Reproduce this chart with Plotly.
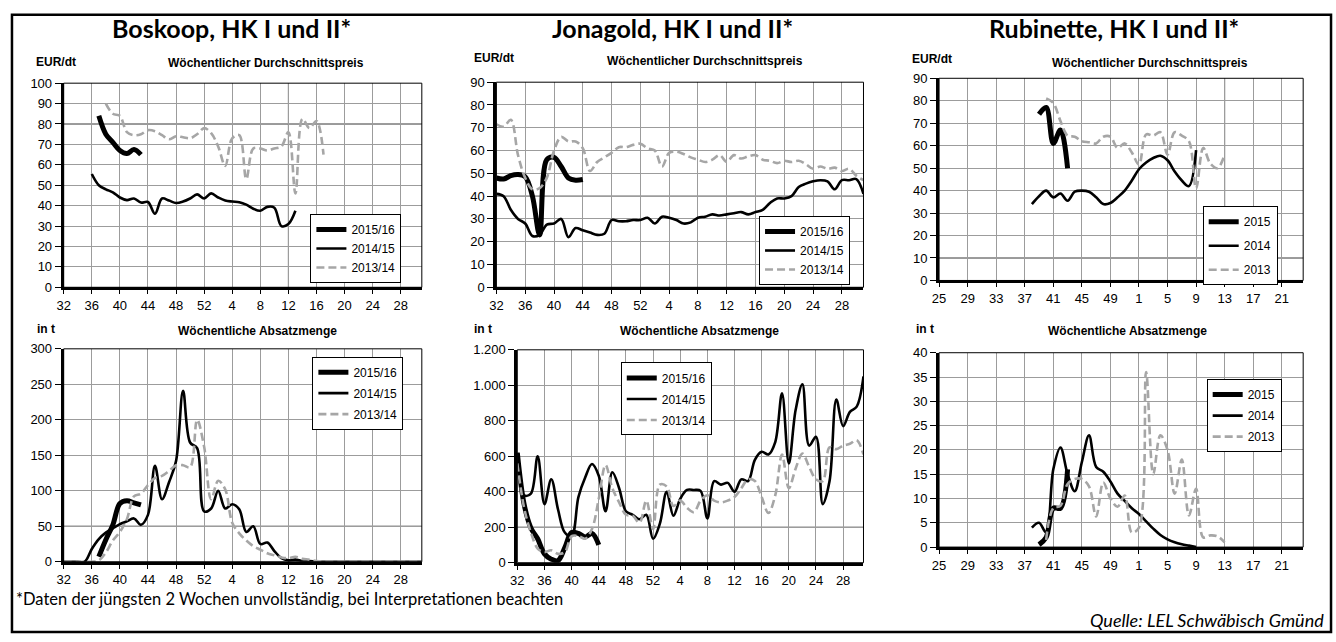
import plotly.graph_objects as go

W, H = 1336, 642

# ---------------- DATA ----------------
# x index: Boskoop/Jonagold weeks 32..52 then 1..31 ; Rubinette weeks 25..52 then 1..24
BJ_TICKTEXT = ["32", "36", "40", "44", "48", "52", "4", "8", "12", "16", "20", "24", "28"]
RU_TICKTEXT = ["25", "29", "33", "37", "41", "45", "49", "1", "5", "9", "13", "17", "21"]
TICK_POS = [0, 4, 8, 12, 16, 20, 24, 28, 32, 36, 40, 44, 48]

SERIES_BJ = ["2015/16", "2014/15", "2013/14"]
SERIES_RU = ["2015", "2014", "2013"]

# Boskoop price (EUR/dt), start index + values
BOS_P1516_START = 5
BOS_P1516 = [84, 75, 71, 67, 65.5, 67.5, 65]
BOS_P1415_START = 4
BOS_P1415 = [55.5, 50, 48, 46.5, 44, 42.7, 43.5, 41.5, 41.8, 36, 43.5, 42.5, 41.3, 42, 43.5,
             45.5, 43.5, 46, 44, 42.5, 42, 41.7, 40.5, 38.5, 37.5, 39.4, 39, 30, 31, 37.5]
BOS_P1314_START = 6
BOS_P1314 = [90, 85, 84, 76, 74.5, 75, 77, 76.5, 74.5, 72.5, 74, 73.5, 73, 75, 78, 75.5, 69,
             59.5, 73, 74.5, 53, 68, 68, 67, 68, 69, 76, 46, 82.5, 78, 81.5, 65]

# Boskoop quantity (t)
BOS_Q1516_START = 5
BOS_Q1516 = [7, 31, 52, 82, 86, 83, 80]
BOS_Q1415_START = 0
BOS_Q1415 = [0, 0, 0, 0, 18, 32, 41, 47, 53, 57, 61, 52, 66, 135, 88, 112, 142, 241, 168, 160,
             71, 75, 100, 75, 81, 74, 42, 50, 25, 27, 15, 5, 2, 3, 1, 1, 0, 0, 0, 0, 0, 0, 0, 0,
             0, 0, 0, 0, 0, 0, 0, 0]
BOS_Q1314_START = 0
BOS_Q1314 = [0, 0, 0, 0, 0, 2, 13, 30, 42, 60, 92, 96, 108, 118, 121, 128, 136, 136, 133, 200,
             162, 88, 114, 102, 55, 40, 30, 22, 17, 12, 9, 6, 5, 7, 4, 3, 1, 0, 0, 0, 0, 0, 0,
             0, 0, 0, 0, 0, 0, 0, 0, 0]

# Jonagold price (EUR/dt)
JON_P1516_START = 0
JON_P1516 = [48, 47.5, 49, 49.5, 48.5, 40, 23, 56, 57, 53, 48, 47, 47.3]
JON_P1415_START = 0
JON_P1415 = [41, 40, 34, 30, 28, 22.5, 23, 27.5, 28, 30, 22, 26, 25, 24, 23, 23.5, 29.5, 29, 29,
             29.5, 29.5, 30.5, 28, 31, 30.5, 29.5, 28, 28.5, 30.5, 31, 32, 31.5, 32, 32.5, 33,
             32, 33, 34, 37, 39, 39, 40, 44, 45.5, 46.5, 47, 46.5, 43, 47, 47, 47.5, 41]
JON_P1314_START = 0
JON_P1314 = [71.5, 70.5, 73.5, 58, 48, 43, 43.5, 48, 60, 66, 64, 64, 61, 51, 55, 57, 59, 61.5,
             61.5, 62.5, 63, 61, 60, 53, 59, 59.5, 58.5, 57, 56, 55, 56, 58, 55, 58, 56.5, 57.5,
             58, 56, 55.5, 54.5, 55.5, 55, 55.5, 54, 52, 53, 52, 52.5, 51, 52, 49, 47]

# Jonagold quantity (t)
JON_Q1516_START = 0
JON_Q1516 = [620, 330, 196, 135, 50, 20, 12, 85, 170, 165, 145, 165, 100]
JON_Q1415_START = 0
JON_Q1415 = [620, 380, 390, 600, 330, 470, 300, 170, 150, 370, 480, 556, 490, 290, 510, 420,
             290, 270, 245, 270, 135, 220, 400, 265, 360, 410, 410, 405, 250, 460, 440, 450,
             400, 470, 460, 580, 625, 610, 680, 955, 560, 860, 1005, 660, 710, 330, 460, 920,
             770, 850, 880, 1050]
JON_Q1314_START = 0
JON_Q1314 = [560, 310, 170, 80, 60, 70, 50, 60, 150, 150, 135, 190, 360, 550, 420, 340, 270,
             265, 225, 350, 190, 440, 430, 320, 350, 310, 285, 350, 380, 350, 340, 350, 370,
             420, 470, 460, 370, 280, 380, 610, 420, 530, 615, 540, 470, 460, 650, 640, 660,
             670, 690, 610]

# Rubinette price (EUR/dt)
RUB_P2015_START = 14
RUB_P2015 = [74, 77, 61, 67, 50]
RUB_P2014_START = 13
RUB_P2014 = [34, 37.5, 40, 37, 38.7, 35.5, 39.5, 40, 39.5, 37, 34, 34.5, 37, 40, 44.5, 49.5,
             52.5, 54.5, 55.5, 53.5, 48.5, 44.5, 42, 58]
RUB_P2013_START = 15
RUB_P2013 = [81, 79, 71, 64.5, 64, 62, 61.5, 61, 64, 64, 59, 61, 57, 51.5, 65, 64.5, 66, 56, 66,
             64.5, 62, 41, 59, 52, 50, 56]

# Rubinette quantity (t)
RUB_Q2015_START = 14
RUB_Q2015 = [0.5, 2, 8, 8, 16]
RUB_Q2014_START = 13
RUB_Q2014 = [4, 5, 3, 16, 20.5, 15, 11.5, 17.5, 23, 16.5, 15.5, 13.5, 11, 9.5, 8, 6.8, 5.3, 3.8,
             2.5, 1.6, 1, 0.6, 0.3, 0]
RUB_Q2013_START = 15
RUB_Q2013 = [1.5, 8, 8.5, 13, 14, 14, 12.5, 6.3, 13.3, 10, 8.3, 10.6, 3, 4, 36, 15, 23, 20, 11,
             18, 6.5, 12, 2, 2.4, 2.2, 1]

BJ_Y_TICKS_P100 = [0, 10, 20, 30, 40, 50, 60, 70, 80, 90, 100]
BJ_Y_TICKS_P90 = [0, 10, 20, 30, 40, 50, 60, 70, 80, 90]
BOS_Q_TICKS = [0, 50, 100, 150, 200, 250, 300]
JON_Q_TICKS = [0, 200, 400, 600, 800, 1000, 1200]
JON_Q_TICKTEXT = ["0", "200", "400", "600", "800", "1.000", "1.200"]
RUB_Q_TICKS = [0, 5, 10, 15, 20, 25, 30, 35, 40]

# ---------------- HELPERS ----------------
def pxx(x):
    return x / W


def pxy(y):
    return 1 - y / H


FONT_AX = "Liberation Sans, Arial, sans-serif"
FONT_TITLE = "Lato, Noto Sans, sans-serif"

STYLES = [
    dict(color="black", width=5, dash="solid"),
    dict(color="black", width=2.6, dash="solid"),
    dict(color="#a6a6a6", width=2.6, dash="8px,4px"),
]

panels = [
    dict(n=1, x=(57, 417), y=(78, 287), yr=100, yt=BJ_Y_TICKS_P100, ytt=None, xtt=BJ_TICKTEXT,
         names=SERIES_BJ,
         data=[(BOS_P1516_START, BOS_P1516), (BOS_P1415_START, BOS_P1415), (BOS_P1314_START, BOS_P1314)],
         leg=(305, 212), gap=0, dark=[("y", 80), ("x", 32)]),
    dict(n=2, x=(492, 861), y=(77, 287), yr=90, yt=BJ_Y_TICKS_P90, ytt=None, xtt=BJ_TICKTEXT,
         names=SERIES_BJ,
         data=[(JON_P1516_START, JON_P1516), (JON_P1415_START, JON_P1415), (JON_P1314_START, JON_P1314)],
         leg=(756, 214), gap=0, dark=[("y", 40)]),
    dict(n=3, x=(937, 1303), y=(73, 280), yr=90, yt=BJ_Y_TICKS_P90, ytt=None, xtt=RU_TICKTEXT,
         names=SERIES_RU,
         data=[(RUB_P2015_START, RUB_P2015), (RUB_P2014_START, RUB_P2014), (RUB_P2013_START, RUB_P2013)],
         leg=(1202, 204), gap=5, dark=[("y", 10), ("x", 40)]),
    dict(n=4, x=(57, 417), y=(350, 568), yr=300, yt=BOS_Q_TICKS, ytt=None, xtt=BJ_TICKTEXT,
         names=SERIES_BJ,
         data=[(BOS_Q1516_START, BOS_Q1516), (BOS_Q1415_START, BOS_Q1415), (BOS_Q1314_START, BOS_Q1314)],
         leg=(307, 358), gap=2, dark=[("y", 50)]),
    dict(n=5, x=(513, 861), y=(351, 569), yr=1200, yt=JON_Q_TICKS, ytt=JON_Q_TICKTEXT, xtt=BJ_TICKTEXT,
         names=SERIES_BJ,
         data=[(JON_Q1516_START, JON_Q1516), (JON_Q1415_START, JON_Q1415), (JON_Q1314_START, JON_Q1314)],
         leg=(617, 364), gap=2, dark=[("y", 200)]),
    dict(n=6, x=(937, 1303), y=(354, 553), yr=40, yt=RUB_Q_TICKS, ytt=None, xtt=RU_TICKTEXT,
         names=SERIES_RU,
         data=[(RUB_Q2015_START, RUB_Q2015), (RUB_Q2014_START, RUB_Q2014), (RUB_Q2013_START, RUB_Q2013)],
         leg=(1206, 381), gap=2, dark=[]),
]

fig = go.Figure()
layout = dict(
    width=W, height=H, margin=dict(l=0, r=0, t=0, b=0),
    paper_bgcolor="white", plot_bgcolor="white", showlegend=True,
)
shapes = []

for p in panels:
    n = p["n"]
    sfx = "" if n == 1 else str(n)
    xa, ya = "x" + sfx, "y" + sfx
    legname = "legend" + sfx
    for k, ((start, vals), name) in enumerate(zip(p["data"], p["names"])):
        st = STYLES[k]
        fig.add_trace(go.Scatter(
            x=list(range(start, start + len(vals))), y=vals, name=name, mode="lines",
            line=dict(color=st["color"], width=st["width"], dash=st["dash"], shape="spline", smoothing=1),
            xaxis=xa, yaxis=ya, legend=legname, legendgroup=f"{n}-{k}", hoverinfo="skip",
        ))
    layout["xaxis" + sfx] = dict(
        domain=[pxx(p["x"][0]), pxx(p["x"][1])], anchor=ya, range=[0, 51],
        tickmode="array", tickvals=TICK_POS, ticktext=p["xtt"],
        showgrid=True, gridcolor="#9c9c9c", gridwidth=1, zeroline=False,
        showline=True, linecolor="black", linewidth=3,
        ticks="outside", ticklen=4, tickcolor="black", tickwidth=1,
        tickfont=dict(family=FONT_AX, size=13, color="black"), fixedrange=True,
    )
    yax = dict(
        domain=[pxy(p["y"][1]), pxy(p["y"][0])], anchor=xa, range=[0, p["yr"]],
        tickmode="array", tickvals=p["yt"],
        showgrid=True, gridcolor="#9c9c9c", gridwidth=1, zeroline=False,
        showline=True, linecolor="black", linewidth=3,
        ticks="outside", ticklen=6, tickcolor="black", tickwidth=1,
        tickfont=dict(family=FONT_AX, size=13, color="black"), fixedrange=True,
    )
    if p["ytt"] is not None:
        yax["ticktext"] = p["ytt"]
    layout["yaxis" + sfx] = yax
    layout[legname] = dict(
        x=pxx(p["leg"][0]), y=pxy(p["leg"][1]), xanchor="left", yanchor="top",
        bgcolor="white", bordercolor="black", borderwidth=1,
        font=dict(family=FONT_AX, size=12, color="black"),
        traceorder="grouped", tracegroupgap=p["gap"],
    )
    # thin plot-area frame
    shapes.append(dict(type="rect", xref=xa + " domain", yref=ya + " domain", x0=0, x1=1, y0=0, y1=1,
                       line=dict(color="black", width=1), layer="above"))
    for kind, v in p["dark"]:
        if kind == "y":
            shapes.append(dict(type="line", xref=xa + " domain", yref=ya, x0=0, x1=1, y0=v, y1=v,
                               line=dict(color="#303030", width=1), layer="below"))
        else:
            shapes.append(dict(type="line", xref=xa, yref=ya + " domain", x0=v, x1=v, y0=0, y1=1,
                               line=dict(color="#303030", width=1), layer="below"))

# outer frame
shapes.append(dict(type="rect", xref="paper", yref="paper", x0=pxx(5), x1=pxx(1331), y0=pxy(640), y1=pxy(8),
                   line=dict(color="black", width=2.5), layer="above"))
layout["shapes"] = shapes

ann = []


def add_text(text, x, y, size, family, xanchor="center", bold=False, italic=False):
    t = text
    if bold:
        t = "<b>" + t + "</b>"
    if italic:
        t = "<i>" + t + "</i>"
    ann.append(dict(text=t, x=pxx(x), y=pxy(y), xref="paper", yref="paper", xanchor=xanchor,
                    yanchor="middle", showarrow=False, font=dict(family=family, size=size, color="black")))


add_text("Boskoop, HK I und II*", 226, 22, 25, FONT_TITLE, bold=True)
add_text("Jonagold, HK I und II*", 669, 22, 25, FONT_TITLE, bold=True)
add_text("Rubinette, HK I und II*", 1113, 22, 25, FONT_TITLE, bold=True)

add_text("EUR/dt", 27, 56, 12, FONT_AX, xanchor="left", bold=True)
add_text("Wöchentlicher Durchschnittspreis", 260, 57, 12, FONT_AX, bold=True)
add_text("EUR/dt", 467, 52, 12, FONT_AX, xanchor="left", bold=True)
add_text("Wöchentlicher Durchschnittspreis", 702, 55, 12, FONT_AX, bold=True)
add_text("EUR/dt", 908, 53, 12, FONT_AX, xanchor="left", bold=True)
add_text("Wöchentlicher Durchschnittspreis", 1149, 57, 12, FONT_AX, bold=True)

add_text("in t", 28, 330, 12, FONT_AX, xanchor="left", bold=True)
add_text("Wöchentliche Absatzmenge", 252, 332, 12, FONT_AX, bold=True)
add_text("in t", 467, 330, 12, FONT_AX, xanchor="left", bold=True)
add_text("Wöchentliche Absatzmenge", 696, 332, 12, FONT_AX, bold=True)
add_text("in t", 912, 330, 12, FONT_AX, xanchor="left", bold=True)
add_text("Wöchentliche Absatzmenge", 1126, 332, 12, FONT_AX, bold=True)

add_text("*Daten der jüngsten 2 Wochen unvollständig, bei Interpretationen beachten", 7, 606, 16.5,
         FONT_TITLE, xanchor="left")
add_text("Quelle: LEL Schwäbisch Gmünd", 1326, 628, 18, FONT_TITLE, xanchor="right", italic=True)

layout["annotations"] = ann
fig.update_layout(**layout)
fig.write_html("out.html", config=dict(displayModeBar=False),
               post_script="document.body.style.margin='0';document.body.style.overflow='hidden';")
